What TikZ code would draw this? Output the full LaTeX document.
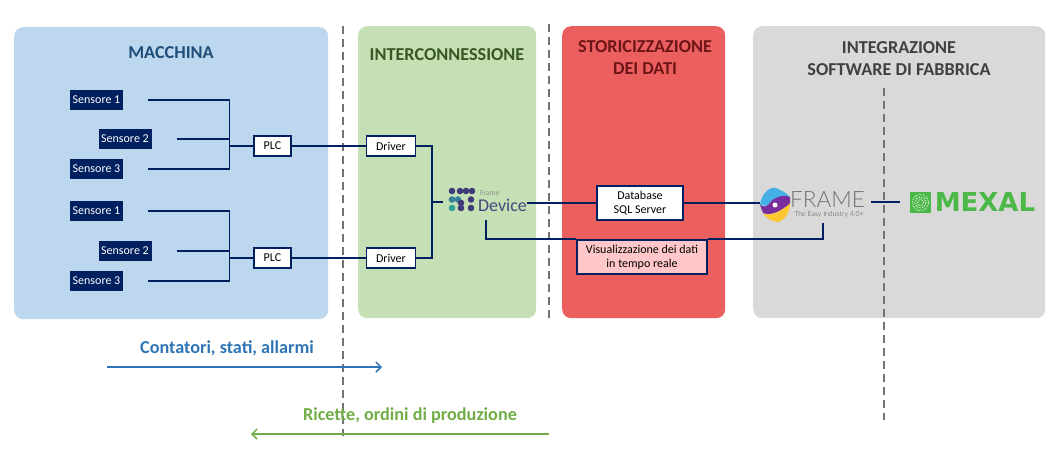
\documentclass[tikz,border=0pt]{standalone}
\usepackage{fontspec}
\setmainfont{Carlito}
\newfontfamily\logofont[UprightFont=* Light]{Lato}
\newfontfamily\mexalfont{DejaVu Sans}
\usetikzlibrary{arrows.meta}
\definecolor{navy}{HTML}{002060}
\definecolor{panelblue}{HTML}{BDD7EE}
\definecolor{panelgreen}{HTML}{C5E0B4}
\definecolor{panelred}{HTML}{EC5F5F}
\definecolor{panelgray}{HTML}{D9D9D9}
\definecolor{flowblue}{HTML}{2E75B6}
\definecolor{flowgreen}{HTML}{70AD47}
\definecolor{mexalgreen}{HTML}{4CB848}
\definecolor{titleblue}{HTML}{1F4E79}
\definecolor{titlegreen}{HTML}{385723}
\definecolor{titlered}{HTML}{6E1518}
\definecolor{framesky}{HTML}{45B0E6}
\definecolor{framesun}{HTML}{FDC82F}
\definecolor{frameplum}{HTML}{7A2E9E}
\tikzset{
	panel/.style={shape=rectangle,rounded corners=9pt,anchor=north west},
	heading/.style={font=\fontsize{18.2}{22}\selectfont\bfseries,align=center},
	sensor/.style={shape=rectangle,fill=navy,text=white,font=\fontsize{12}{14}\selectfont,minimum width=53pt,minimum height=20pt,inner sep=0pt},
	block/.style={shape=rectangle,draw=navy,line width=1.6pt,fill=white,font=\fontsize{12}{14}\selectfont,inner sep=0pt,align=center},
	wire/.style={draw=navy,line width=1.6pt},
	divider/.style={draw=black!55,line width=1.6pt,dash pattern=on 8pt off 5pt},
	flow/.style={line width=1.5pt,-{Straight Barb[length=5pt,width=10pt]}},
	flowtext/.style={font=\fontsize{18.2}{20}\selectfont\bfseries},
}
\begin{document}
\begin{tikzpicture}[x=1pt,y=-1pt]
	\useasboundingbox (0,0) rectangle (1058,451);
	% panels
	\draw (14,27) node (macchina) [panel,fill=panelblue,minimum width=314pt,minimum height=292pt] {};
	\draw (358,26) node (inter) [panel,fill=panelgreen,minimum width=178pt,minimum height=292pt] {};
	\draw (562,26) node (storico) [panel,fill=panelred,minimum width=163pt,minimum height=292pt] {};
	\draw (753,26) node (fabbrica) [panel,fill=panelgray,minimum width=292pt,minimum height=292pt] {};
	\draw (171,53) node (tmacchina) [heading,text=titleblue] {MACCHINA};
	\draw (447,55) node (tinter) [heading,text=titlegreen] {INTERCONNESSIONE};
	\draw (645,58) node (tstorico) [heading,text=titlered] {STORICIZZAZIONE\\DEI DATI};
	\draw (899,59) node (tfabbrica) [heading,text=black!75] {INTEGRAZIONE\\SOFTWARE DI FABBRICA};
	% dashed separators
	\draw (343,26) coordinate (sepa1);
	\draw (343,436) coordinate (sepa2);
	\draw (549,24) coordinate (sepb1);
	\draw (549,318) coordinate (sepb2);
	\draw (884,88) coordinate (sepc1);
	\draw (884,420) coordinate (sepc2);
	\draw [divider] (sepa1) -- (sepa2);
	\draw [divider] (sepb1) -- (sepb2);
	\draw [divider] (sepc1) -- (sepc2);
	% sensors, plc, drivers
	\draw (96.5,100) node (sa1) [sensor] {Sensore 1};
	\draw (125,139) node (sa2) [sensor] {Sensore 2};
	\draw (96.5,169) node (sa3) [sensor] {Sensore 3};
	\draw (96.5,211) node (sb1) [sensor] {Sensore 1};
	\draw (125,251) node (sb2) [sensor] {Sensore 2};
	\draw (96.5,281) node (sb3) [sensor] {Sensore 3};
	\draw (229.5,146) coordinate (busa);
	\draw (229.5,258) coordinate (busb);
	\draw (272.5,146) node (plca) [block,minimum width=37pt,minimum height=20pt] {PLC};
	\draw (272.5,258) node (plcb) [block,minimum width=37pt,minimum height=20pt] {PLC};
	\draw (391,146) node (drva) [block,minimum width=49pt,minimum height=20pt] {Driver};
	\draw (391,258) node (drvb) [block,minimum width=49pt,minimum height=20pt] {Driver};
	\draw (432,202) coordinate (busc);
	\draw (443,202) coordinate (devin);
	% device logo
	\foreach \x/\y/\c in {452/191/3F3A78,460/191/3F3A78,466/191/3F3A78,472/191/3F3A78,452/199.5/3A7F9A,458/199.5/3A7F9A,471/199.5/3F3A78,461/203/3F3A78,452/208/2FA39A,461/208/3F3A78,471/208/3F3A78} {
		\definecolor{dotcolor}{HTML}{\c}
		\fill [dotcolor] (\x,\y) circle (3.3pt);
	}
	\draw (480,193.5) node (frametext) [anchor=west,inner sep=0pt,font=\fontsize{7.5}{8}\selectfont,text=black!45] {Frame};
	\draw (502.5,205) node (device) [inner sep=0pt,minimum width=47pt,minimum height=20pt,font=\fontsize{18}{18}\selectfont,text=black!50!blue!45!gray] {Device};
	\draw (640,203) node (db) [block,minimum width=86pt,minimum height=34pt] {Database\\SQL Server};
	\draw (642,257) node (visual) [block,fill=red!22!white,minimum width=130pt,minimum height=34pt] {Visualizzazione dei dati\\in tempo reale};
	% frame logo
	\fill [framesky] (760,205) .. controls (761,193) and (771,186) .. (776,188) .. controls (780,190) and (786,192) .. (790,197) .. controls (782,195) and (772,199) .. (767,206) -- cycle;
	\fill [framesun] (763,213) .. controls (770,217) and (780,212) .. (790,203) .. controls (791,212) and (783,222) .. (777,222) .. controls (771,221) and (766,218) .. (763,213) -- cycle;
	\fill [frameplum] (760,205) .. controls (764,207) and (766,207) .. (769,204) .. controls (774,197) and (783,194) .. (790,197) -- (790,203) .. controls (785,208) and (772,217) .. (763,213) -- cycle;
	\fill [white] (775,205) circle (2.5pt);
	\draw (827.5,200) node (frame) [inner sep=0pt,minimum width=70pt,minimum height=18pt,font=\logofont\fontsize{22.5}{24}\selectfont,text=black!55] {FRAME};
	\draw (829,214.5) node (frameline) [inner sep=0pt,font=\logofont\fontsize{7}{7}\selectfont,text=black!70] {The Easy Industry 4.0+};
	\draw (871,202) coordinate (framein);
	\draw (900,202) coordinate (mexalin);
	% mexal logo
	\draw (920.5,202.5) node (mexalbox) [shape=rectangle,fill=mexalgreen,minimum size=21pt,inner sep=0pt] {};
	\foreach \r in {3,5.5,8} {
		\draw [white,line width=0.8pt,densely dotted] (mexalbox) circle (\r pt);
	}
	\draw (985,202.5) node (mexal) [inner sep=0pt,font=\mexalfont\fontsize{26}{28}\selectfont\bfseries,text=mexalgreen] {MEXAL};
	% wires
	\draw [wire,shorten <=25pt] (sa1.east) -| (busa);
	\draw [wire,shorten <=25pt] (sa2.east) -- (busa |- sa2);
	\draw [wire,shorten <=25pt] (sa3.east) -| (busa);
	\draw [wire] (busa) -- (plca);
	\draw [wire] (plca) -- (drva);
	\draw [wire,shorten <=25pt] (sb1.east) -| (busb);
	\draw [wire,shorten <=25pt] (sb2.east) -- (busb |- sb2);
	\draw [wire,shorten <=25pt] (sb3.east) -| (busb);
	\draw [wire] (busb) -- (plcb);
	\draw [wire] (plcb) -- (drvb);
	\draw [wire] (drva) -| (busc);
	\draw [wire] (drvb) -| (busc);
	\draw [wire] (busc) -- (devin);
	\draw [wire] (device.east |- db) -- (db);
	\draw [wire] (db) -- (760,203);
	\draw [wire] (framein) -- (mexalin);
	\draw (486,220) coordinate (devout);
	\draw (823,223) coordinate (frameout);
	\draw [wire] (devout) |- (visual.north west);
	\draw [wire] (visual.north east) -| (frameout);
	% flows
	\draw (107,367) coordinate (fa1);
	\draw (382,367) coordinate (fa2);
	\draw (549,434) coordinate (fb1);
	\draw (251,434) coordinate (fb2);
	\draw [flow,draw=flowblue] (fa1) -- (fa2);
	\draw [flow,draw=flowgreen] (fb1) -- (fb2);
	\draw (227,348) node (tfa) [flowtext,text=flowblue] {Contatori, stati, allarmi};
	\draw (410,416) node (tfb) [flowtext,text=flowgreen] {Ricette, ordini di produzione};
\end{tikzpicture}
\end{document}
